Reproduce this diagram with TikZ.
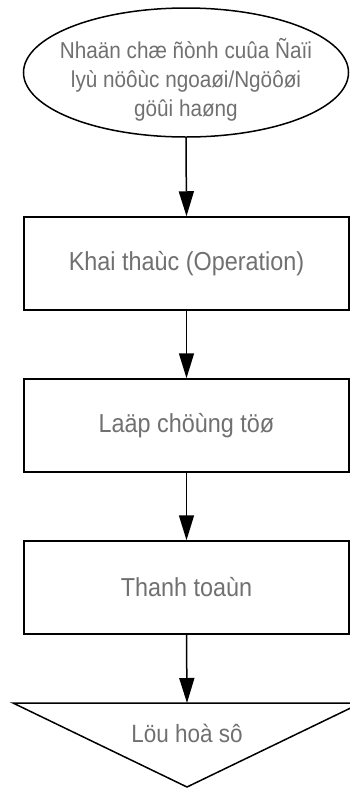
\documentclass[tikz,border=0pt]{standalone}
\usepackage{fontspec}
\setmainfont{Liberation Sans}
\newfontfamily\lblfont[FakeStretch=0.9]{Liberation Sans}
\usetikzlibrary{arrows.meta,shapes.geometric}
\definecolor{txtgray}{HTML}{707070}
\tikzset{
  stepbox/.style={draw, line width=1.5pt, rectangle, minimum width=325pt, minimum height=93pt, inner sep=0pt,
    font=\lblfont\fontsize{26}{30}\selectfont, text=txtgray},
  startoval/.style={draw, line width=1.5pt, ellipse, minimum width=325pt, minimum height=129pt, inner sep=0pt},
  ovaltext/.style={font=\lblfont\fontsize{23}{29}\selectfont, text=txtgray, align=center, inner sep=0pt},
  lbl/.style={font=\lblfont\fontsize{25}{29}\selectfont, text=txtgray, inner sep=0pt},
  flow/.style={line width=1.5pt, -{Triangle[width=15pt,length=25pt]}}
}
\begin{document}
\begin{tikzpicture}[x=1pt,y=-1pt]
\useasboundingbox (0,0) rectangle (350,788);
\node[startoval] (start) at (186,72.5) {};
\node[ovaltext] (starttext) at (186,80) {Nhaän chæ ñònh cuûa Ñaïi\\lyù nöôùc ngoaøi/Ngöôøi\\göûi haøng};
\node[stepbox] (op) at (186.5,263.5) {Khai thaùc (Operation)};
\node[stepbox] (doc) at (186.5,425.5) {Laäp chöùng töø};
\node[stepbox] (pay) at (186.5,587.5) {Thanh toaùn};
\coordinate (tritop) at (187,703);
\draw[line width=1.5pt, line join=miter] (13,703) -- (361,703) -- (187,787) -- cycle;
\node[lbl] (arch) at (187,733) {Löu hoà sô};
\draw[flow] (start.south) -- (op.north);
\draw[flow] (op.south) -- (doc.north);
\draw[flow] (doc.south) -- (pay.north);
\draw[flow] (pay.south) -- (tritop);
\end{tikzpicture}
\end{document}
